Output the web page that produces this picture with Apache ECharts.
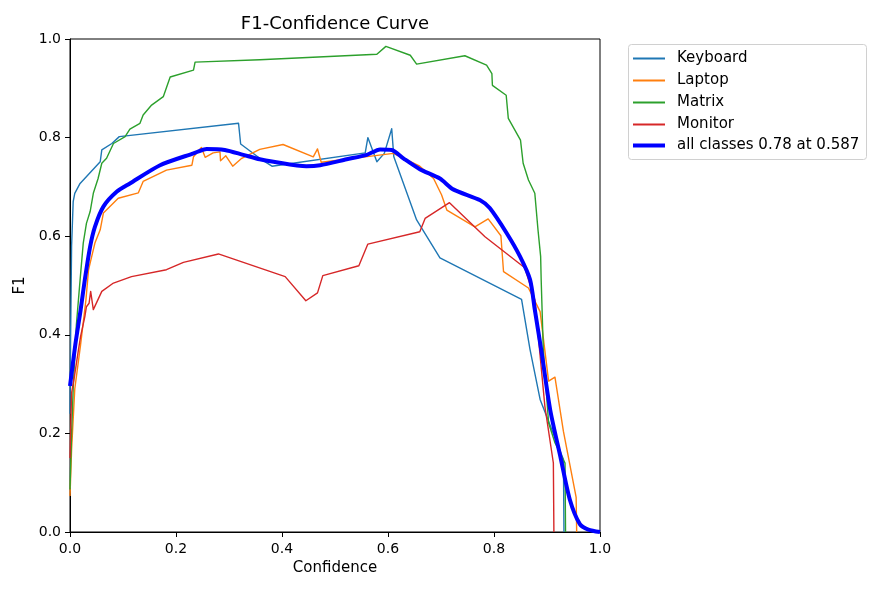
<!DOCTYPE html>
<html>
<head>
<meta charset="utf-8">
<script src="https://cdn.jsdelivr.net/npm/echarts@6/dist/echarts.min.js"></script>
<style>html,body{margin:0;padding:0;background:#fff}#c{width:889px;height:592px}</style>
</head>
<body>
<div id="c"></div>
<script>
var titleText = 'F1-Confidence Curve';
var xName = 'Confidence';
var yName = 'F1';
var xTicks = [0, 0.2, 0.4, 0.6, 0.8, 1.0];
var seriesNames = ['Keyboard', 'Laptop', 'Matrix', 'Monitor', 'all classes 0.78 at 0.587'];

var keyboard = [[0,0.24],[0.001,0.38],[0.003,0.58],[0.006,0.67],[0.009,0.687],[0.019,0.707],[0.057,0.751],[0.060,0.775],[0.079,0.788],[0.093,0.802],[0.318,0.829],[0.322,0.787],[0.358,0.758],[0.381,0.742],[0.557,0.769],[0.562,0.800],[0.579,0.751],[0.593,0.768],[0.607,0.818],[0.611,0.761],[0.654,0.633],[0.698,0.556],[0.852,0.472],[0.868,0.370],[0.887,0.269],[0.931,0.147],[0.932,0.0]];

var laptop = [[0,0.073],[0.003,0.167],[0.009,0.29],[0.020,0.38],[0.030,0.47],[0.035,0.532],[0.041,0.559],[0.047,0.586],[0.057,0.613],[0.063,0.647],[0.091,0.677],[0.129,0.688],[0.138,0.711],[0.182,0.734],[0.230,0.744],[0.233,0.761],[0.248,0.780],[0.255,0.760],[0.270,0.769],[0.283,0.771],[0.284,0.753],[0.294,0.763],[0.307,0.742],[0.324,0.758],[0.358,0.776],[0.402,0.786],[0.459,0.761],[0.467,0.777],[0.474,0.750],[0.572,0.763],[0.610,0.768],[0.660,0.742],[0.686,0.717],[0.701,0.684],[0.711,0.653],[0.764,0.619],[0.789,0.635],[0.813,0.601],[0.818,0.528],[0.865,0.495],[0.887,0.447],[0.903,0.306],[0.915,0.314],[0.931,0.204],[0.955,0.070],[0.956,0.0]];

var matrix = [[0,0.086],[0.003,0.20],[0.006,0.29],[0.012,0.42],[0.019,0.511],[0.025,0.586],[0.031,0.626],[0.038,0.650],[0.044,0.687],[0.053,0.717],[0.060,0.748],[0.069,0.758],[0.082,0.788],[0.104,0.802],[0.113,0.817],[0.132,0.829],[0.138,0.846],[0.154,0.866],[0.176,0.883],[0.189,0.923],[0.233,0.937],[0.236,0.953],[0.358,0.958],[0.579,0.969],[0.596,0.985],[0.642,0.967],[0.654,0.949],[0.745,0.966],[0.786,0.947],[0.796,0.930],[0.797,0.906],[0.823,0.886],[0.827,0.839],[0.850,0.795],[0.855,0.748],[0.865,0.714],[0.877,0.687],[0.883,0.613],[0.888,0.559],[0.889,0.512],[0.893,0.370],[0.903,0.221],[0.915,0.181],[0.934,0.140],[0.935,0.0]];

var monitor = [[0,0.15],[0.002,0.24],[0.003,0.282],[0.008,0.313],[0.011,0.313],[0.016,0.370],[0.020,0.397],[0.028,0.437],[0.031,0.457],[0.036,0.464],[0.039,0.488],[0.044,0.451],[0.060,0.488],[0.082,0.505],[0.116,0.518],[0.182,0.532],[0.214,0.547],[0.280,0.564],[0.406,0.518],[0.445,0.469],[0.467,0.485],[0.477,0.520],[0.545,0.540],[0.562,0.584],[0.660,0.609],[0.670,0.636],[0.716,0.668],[0.783,0.599],[0.858,0.536],[0.877,0.471],[0.896,0.255],[0.912,0.140],[0.913,0.0]];

var allClasses = [[0,0.296],[0.010,0.38],[0.020,0.45],[0.028,0.512],[0.038,0.579],[0.047,0.619],[0.063,0.660],[0.088,0.690],[0.113,0.707],[0.170,0.744],[0.233,0.768],[0.258,0.777],[0.292,0.775],[0.327,0.765],[0.358,0.756],[0.384,0.751],[0.446,0.742],[0.472,0.744],[0.522,0.756],[0.560,0.765],[0.585,0.776],[0.607,0.775],[0.629,0.758],[0.660,0.736],[0.698,0.717],[0.723,0.695],[0.774,0.673],[0.792,0.657],[0.824,0.606],[0.849,0.559],[0.868,0.512],[0.877,0.451],[0.890,0.363],[0.906,0.248],[0.925,0.154],[0.943,0.066],[0.962,0.016],[0.978,0.005],[1.0,0.0]];

var colors = ['#1f77b4', '#ff7f0e', '#2ca02c', '#d62728', '#0000ff'];
var datasets = [keyboard, laptop, matrix, monitor, allClasses];

var FONT = 'DejaVu Sans';
var chart = echarts.init(document.getElementById('c'), null, {renderer: 'canvas'});

var series = datasets.map(function (d, i) {
  var s = {
    name: seriesNames[i],
    type: 'line',
    data: d,
    showSymbol: false,
    symbol: 'none',
    animation: false,
    silent: true,
    z: i === 4 ? 5 : 2,
    lineStyle: {color: colors[i], width: i === 4 ? 4 : 1.4, join: 'round'},
    itemStyle: {color: colors[i]}
  };
  if (i === 4) { s.smooth = 0.25; }
  return s;
});

chart.setOption({
  animation: false,
  backgroundColor: '#fff',
  title: {
    text: titleText, left: 330, top: 10, textAlign: 'center',
    textStyle: {fontFamily: FONT, fontSize: 18, fontWeight: 'normal', color: '#000'}
  },
  grid: {left: 70, right: 289, top: 39, bottom: 60, show: true, borderColor: '#000', borderWidth: 1, backgroundColor: 'transparent'},
  xAxis: {
    type: 'value', min: 0, max: 1, interval: 0.2,
    name: xName, nameLocation: 'middle', nameGap: 28,
    nameTextStyle: {fontFamily: FONT, fontSize: 15, color: '#000'},
    axisLine: {show: true, onZero: false, lineStyle: {color: '#000', width: 1}},
    axisTick: {show: true, length: 5, lineStyle: {color: '#000'}},
    axisLabel: {fontFamily: FONT, fontSize: 14, color: '#000', margin: 10, formatter: function (v) { return v.toFixed(1); }},
    splitLine: {show: false}
  },
  yAxis: {
    type: 'value', min: 0, max: 1, interval: 0.2,
    name: yName, nameLocation: 'middle', nameGap: 40,
    nameTextStyle: {fontFamily: FONT, fontSize: 15, color: '#000'},
    axisLine: {show: true, onZero: false, lineStyle: {color: '#000', width: 1}},
    axisTick: {show: true, length: 5, lineStyle: {color: '#000'}},
    axisLabel: {fontFamily: FONT, fontSize: 14, color: '#000', margin: 9, formatter: function (v) { return v.toFixed(1); }},
    splitLine: {show: false}
  },
  graphic: [{
    type: 'rect', left: 628, top: 44, z: 0,
    shape: {width: 238, height: 115, r: 3},
    style: {fill: '#fff', stroke: '#d0d0d0', lineWidth: 1}
  }],
  legend: [{
    data: seriesNames.slice(0, 4),
    orient: 'vertical', left: 628, top: 46,
    icon: 'rect', itemWidth: 32, itemHeight: 2, itemGap: 7,
    textStyle: {fontFamily: FONT, fontSize: 15, color: '#000', padding: [0, 0, 0, 7], lineHeight: 15},
    selectedMode: false, z: 10
  }, {
    data: seriesNames.slice(4),
    orient: 'vertical', left: 628, top: 133,
    icon: 'rect', itemWidth: 32, itemHeight: 4, itemGap: 7,
    textStyle: {fontFamily: FONT, fontSize: 15, color: '#000', padding: [0, 0, 0, 7], lineHeight: 15},
    selectedMode: false, z: 10
  }],
  series: series
});
</script>
</body>
</html>
